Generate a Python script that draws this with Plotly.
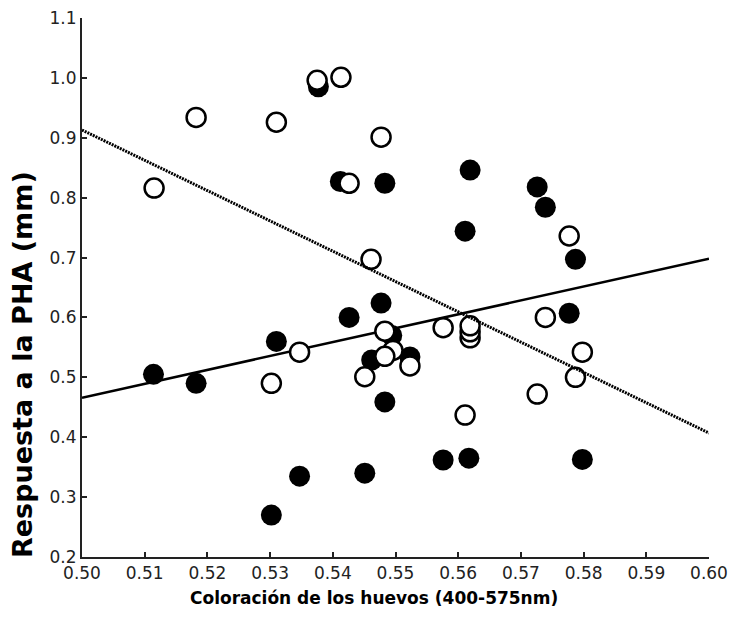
import plotly.graph_objects as go

# Filled circles (group 1)
filled_x = [0.5114, 0.5182, 0.5302, 0.5310, 0.5347, 0.5377, 0.5412, 0.5426, 0.5451,
            0.5462, 0.5477, 0.5483, 0.5483, 0.5494, 0.5523, 0.5576, 0.5611, 0.5617,
            0.5619, 0.5726, 0.5739, 0.5777, 0.5787, 0.5798]
filled_y = [0.505, 0.490, 0.270, 0.560, 0.335, 0.985, 0.827, 0.600, 0.340,
            0.529, 0.624, 0.824, 0.459, 0.570, 0.534, 0.362, 0.744, 0.365,
            0.846, 0.818, 0.784, 0.607, 0.697, 0.363]

# Open circles (group 2)
open_x = [0.5115, 0.5182, 0.5310, 0.5302, 0.5347, 0.5375, 0.5413, 0.5426, 0.5461,
          0.5477, 0.5496, 0.5483, 0.5483, 0.5451, 0.5523, 0.5576, 0.5611, 0.5619,
          0.5619, 0.5619, 0.5726, 0.5739, 0.5777, 0.5787, 0.5798]
open_y = [0.816, 0.934, 0.926, 0.490, 0.542, 0.996, 1.001, 0.824, 0.697,
          0.901, 0.545, 0.577, 0.535, 0.501, 0.519, 0.583, 0.437, 0.566,
          0.576, 0.586, 0.472, 0.600, 0.736, 0.500, 0.542]

# Regression lines (end points)
solid_x = [0.50, 0.60]
solid_y = [0.466, 0.698]
dotted_x = [0.50, 0.60]
dotted_y = [0.913, 0.407]

x_ticks = [0.50, 0.51, 0.52, 0.53, 0.54, 0.55, 0.56, 0.57, 0.58, 0.59, 0.60]
y_ticks = [0.2, 0.3, 0.4, 0.5, 0.6, 0.7, 0.8, 0.9, 1.0, 1.1]

x_title = "Coloración de los huevos (400-575nm)"
y_title = "Respuesta a la PHA (mm)"

fig = go.Figure()
fig.add_trace(go.Scatter(x=solid_x, y=solid_y, mode="lines",
                         line=dict(color="black", width=2.5), hoverinfo="skip"))
fig.add_trace(go.Scatter(x=filled_x, y=filled_y, mode="markers",
                         marker=dict(size=21, color="black", line=dict(width=0))))
fig.add_trace(go.Scatter(x=open_x, y=open_y, mode="markers",
                         marker=dict(size=19, color="white", line=dict(width=2.5, color="black"))))
fig.add_trace(go.Scatter(x=dotted_x, y=dotted_y, mode="lines",
                         line=dict(color="black", width=3, dash="2px,1px"), hoverinfo="skip"))

axis_common = dict(
    showgrid=False, zeroline=False, showline=True, linecolor="#222", linewidth=2,
    ticks="inside", ticklen=5, tickwidth=1.5, tickcolor="#222", automargin=False,
    tickfont=dict(family="DejaVu Sans", size=17, color="#222"),
)

fig.update_layout(
    width=731, height=627,
    margin=dict(l=82, r=22, t=18, b=70),
    paper_bgcolor="white", plot_bgcolor="white",
    showlegend=False,
    xaxis=dict(range=[0.50, 0.60], tickvals=x_ticks,
               ticktext=[f"{v:.2f}" for v in x_ticks], **axis_common),
    yaxis=dict(range=[0.2, 1.1], tickvals=y_ticks,
               ticktext=[f"{v:.1f}" for v in y_ticks], **axis_common),
    annotations=[
        dict(text=x_title, xref="paper", yref="paper", x=0.4665, y=-0.076,
             xanchor="center", yanchor="middle", showarrow=False,
             font=dict(family="DejaVu Sans", size=17, color="black", weight="bold")),
        dict(text=y_title, xref="paper", yref="paper", x=-0.0957, y=0.358,
             xanchor="center", yanchor="middle", showarrow=False, textangle=-90,
             font=dict(family="DejaVu Sans", size=27, color="black", weight="bold")),
    ],
)

fig.write_html("out.html")
